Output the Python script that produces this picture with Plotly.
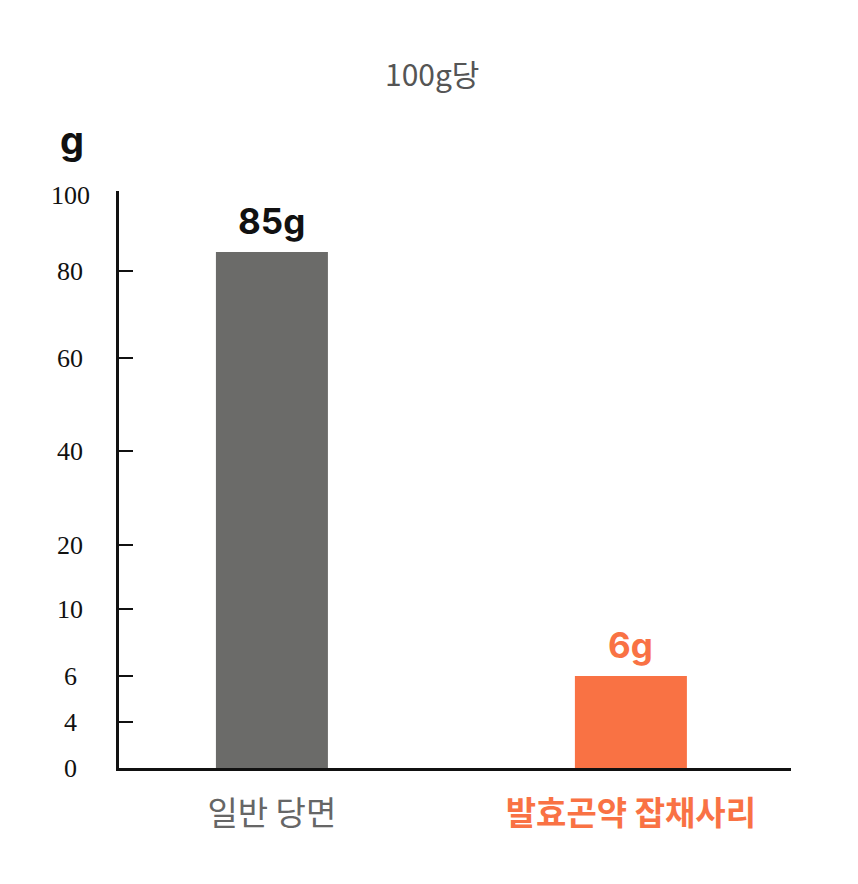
import numpy as np
import plotly.graph_objects as go

# 데이터
categories = ["일반 당면", "발효곤약 잡채사리"]
values = [85, 6]
bar_labels = ["85g", "6g"]
bar_colors = ["#6b6b69", "#f97244"]
label_colors = ["#666666", "#f97244"]
value_colors = ["#111111", "#f97244"]

# 비선형 y축 눈금 (값 -> 화면상 위치)
tick_vals = [0, 4, 6, 10, 20, 40, 60, 80, 100]
tick_pos = [0, 46, 92, 159, 223, 317, 410, 497, 573]


def y_scale(v):
    return np.interp(v, tick_vals, tick_pos)


# 플롯 영역 (페이지 픽셀 기준)
PAGE_OFF = 8
LEFT, RIGHT, TOP, BOTTOM = 119, 791, 191, 768
W, H = 858, 884


def px_x(x):
    return (x - LEFT) / (RIGHT - LEFT)


def px_y(y):
    return (BOTTOM - y) / (BOTTOM - TOP)


fig = go.Figure()
fig.add_trace(go.Bar(
    x=[0, 1],
    y=y_scale(values),
    width=0.312,
    marker=dict(color=bar_colors, line=dict(width=0)),
    hoverinfo="skip",
))

# 막대 위 값 라벨
for i, (v, t, c) in enumerate(zip(values, bar_labels, value_colors)):
    fig.add_annotation(
        x=i, y=y_scale(v), xref="x", yref="y",
        text=f"<b>{t}</b>", showarrow=False,
        xanchor="center", yanchor="bottom", yshift=8,
        font=dict(family="Inter", size=35, color=c),
    )

# y축 눈금 라벨 (가운데 정렬)
for v in tick_vals:
    fig.add_annotation(
        x=px_x(70), xref="paper", y=y_scale(v), yref="y",
        text=str(v), showarrow=False, xanchor="center", yanchor="middle",
        font=dict(family="Liberation Serif", size=26, color="#111111"),
    )

fig.add_annotation(
    x=px_x(432), xref="paper", y=px_y(73), yref="paper",
    xanchor="center", yanchor="middle",
    text="100g당", showarrow=False,
    font=dict(family="Noto Sans CJK KR", size=30, color="#555555"),
)

# 단위 표시
fig.add_annotation(
    x=px_x(72), xref="paper", y=px_y(140), yref="paper",
    xanchor="center", yanchor="middle", showarrow=False,
    text="<b>g</b>", font=dict(family="Inter", size=38, color="#111111"),
)

fig.update_layout(
    width=W, height=H,
    margin=dict(l=LEFT - PAGE_OFF, r=W - RIGHT + PAGE_OFF,
                t=TOP - PAGE_OFF, b=H - BOTTOM + PAGE_OFF),
    plot_bgcolor="white", paper_bgcolor="white",
    showlegend=False,
    xaxis=dict(
        range=[-0.426, 1.446],
        tickvals=[0, 1],
        ticktext=[f'<span style="color:{c}">{"<b>" + t + "</b>" if i else t}</span>'
                  for i, (t, c) in enumerate(zip(categories, label_colors))],
        tickfont=dict(family="Noto Sans CJK KR", size=33),
        ticks="", ticklabelstandoff=14,
        showline=True, linecolor="#111111", linewidth=3,
        showgrid=False, zeroline=False, fixedrange=True,
    ),
    yaxis=dict(
        range=[0, 577],
        tickvals=y_scale(tick_vals[1:-1]),
        showticklabels=False,
        ticks="inside", ticklen=14, tickwidth=2, tickcolor="#111111",
        showline=True, linecolor="#111111", linewidth=3,
        showgrid=False, zeroline=False, fixedrange=True,
    ),
)

fig.write_html("out.html")
